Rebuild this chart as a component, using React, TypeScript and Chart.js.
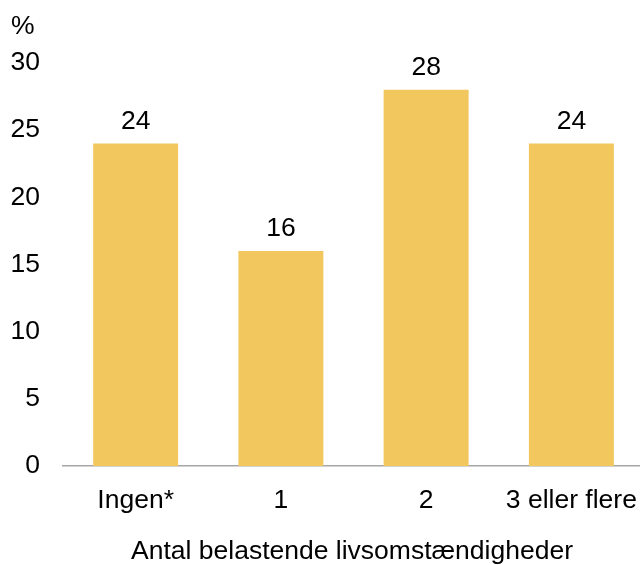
import React, { useEffect, useRef } from "react";
import { Chart, registerables } from "chart.js";

Chart.register(...registerables);

const categories = ["Ingen*", "1", "2", "3 eller flere"];
const values = [24, 16, 28, 24];
const yTicks = [0, 5, 10, 15, 20, 25, 30];
const xTitle = "Antal belastende livsomstændigheder";
const yUnit = "%";

const FONT = "'Liberation Sans', Arial, sans-serif";
const FS = 26.5;

export default function App() {
  const ref = useRef<HTMLCanvasElement>(null);
  useEffect(() => {
    if (!ref.current) return;
    const textPlugin = {
      id: "texts",
      afterDatasetsDraw(chart: any) {
        const ctx = chart.ctx;
        ctx.save();
        ctx.font = `${FS}px ${FONT}`;
        ctx.fillStyle = "#000";
        const meta = chart.getDatasetMeta(0);
        ctx.textAlign = "center";
        ctx.textBaseline = "alphabetic";
        meta.data.forEach((bar: any, i: number) => {
          ctx.fillText(String(values[i]), bar.x, bar.y - 15);
        });
        ctx.textAlign = "left";
        ctx.fillText(yUnit, 11, 34);
        ctx.textAlign = "center";
        ctx.fillText(xTitle, 352, 559);
        ctx.restore();
      },
    };
    const chart = new Chart(ref.current, {
      type: "bar",
      data: {
        labels: categories,
        datasets: [
          {
            data: values,
            backgroundColor: "#F1C75E",
            categoryPercentage: 1,
            barPercentage: 0.585,
          },
        ],
      },
      options: {
        animation: false,
        responsive: false,
        layout: { padding: { top: 63, right: 0, left: 0, bottom: 0 } },
        plugins: { legend: { display: false }, tooltip: { enabled: false } },
        scales: {
          x: {
            grid: { display: false, drawTicks: false },
            border: { display: true, color: "#a6a6a6", width: 1.5 },
            ticks: { color: "#000", font: { family: FONT, size: FS }, padding: 19, maxRotation: 0, autoSkip: false },
            afterFit: (s: any) => { s.height = 565 - 466; s.paddingLeft = 0; s.paddingRight = 0; },
          },
          y: {
            min: 0,
            max: 30,
            afterBuildTicks: (s: any) => { s.ticks = yTicks.map((v) => ({ value: v })); },
            grid: { display: false, drawTicks: false },
            border: { display: false },
            ticks: { color: "#000", font: { family: FONT, size: FS }, padding: 23 },
            afterFit: (s: any) => { s.width = 63; s.paddingTop = 0; s.paddingBottom = 0; },
          },
        },
      },
      plugins: [textPlugin],
    });
    return () => chart.destroy();
  }, []);
  return (
    <div style={{ position: "fixed", left: 0, top: 0, width: 640, height: 565, background: "#fff", overflow: "hidden" }}>
      <canvas ref={ref} width={644} height={565} style={{ width: 644, height: 565, display: "block" }} />
    </div>
  );
}
